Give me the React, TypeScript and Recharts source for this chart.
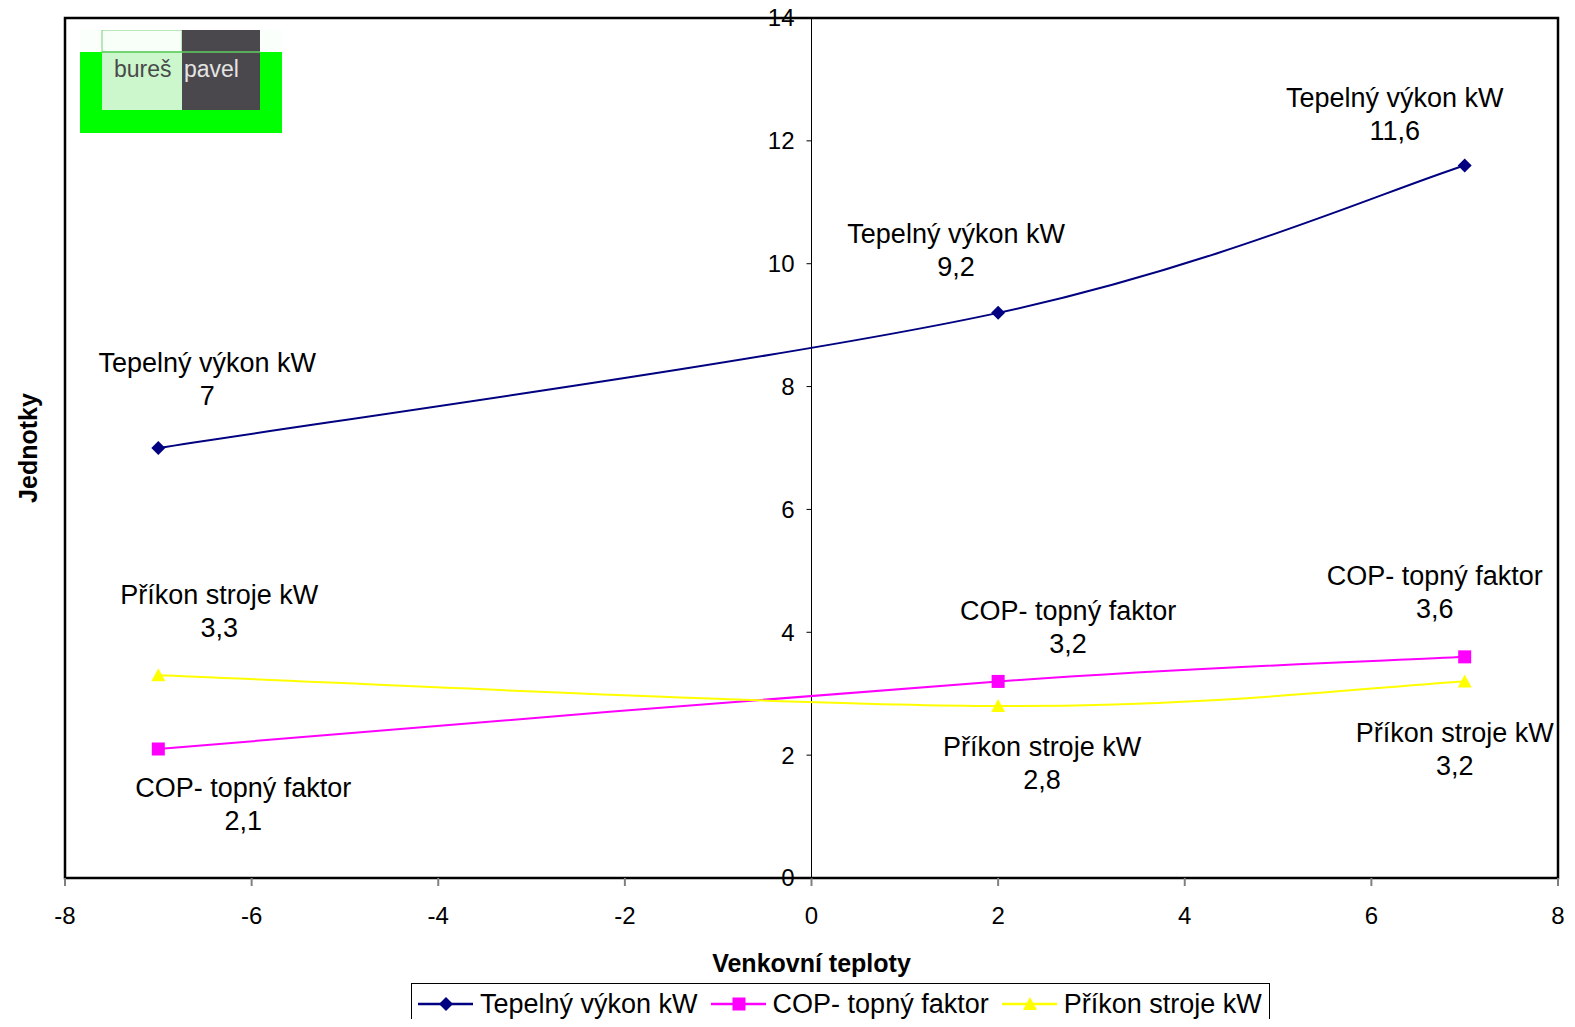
import React from 'react';
import { LineChart, Line, XAxis, YAxis, ReferenceArea, ReferenceLine, LabelList } from 'recharts';

// ---- data ----
const temps = [-7, 2, 7];
const tepelnyVykon = [7, 9.2, 11.6];
const copFaktor = [2.1, 3.2, 3.6];
const prikonStroje = [3.3, 2.8, 3.2];
const xTicks = [-8, -6, -4, -2, 0, 2, 4, 6, 8];
const yTicks = [0, 2, 4, 6, 8, 10, 12, 14];
const seriesNames = ['Tepelný výkon kW', 'COP- topný faktor', 'Příkon stroje kW'];
const seriesKeys = ['tep', 'cop', 'pri'];
const seriesColors = ['#000080', '#FF00FF', '#FFFF00'];
const xTitle = 'Venkovní teploty';
const yTitle = 'Jednotky';

const data = temps.map((t, i) => ({ x: t, tep: tepelnyVykon[i], cop: copFaktor[i], pri: prikonStroje[i] }));

// ---- layout ----
const W = 1559;
const H = 1019;
const Y_AXIS_W = 57;
const M = { top: 10, right: 9, left: 0, bottom: 0 };
const PLOT_W = W - Y_AXIS_W - M.left - M.right;
const ZERO_X = M.left + Y_AXIS_W + PLOT_W / 2;
const FONT = '"Liberation Sans", Arial, sans-serif';

const labelOffsets: Record<string, number[][]> = {
  tep: [[49, -85], [-42, -79], [-70, -68]],
  cop: [[85, 39], [70, -71], [-30, -81]],
  pri: [[61, -81], [44, 41], [-10, 51]],
};

const fmt = (v: number) => String(v).replace('.', ',');

// Excel-style smoothed line (Catmull-Rom Bezier, endpoints duplicated)
const excelCurve = (context: any) => {
  let pts: number[][] = [];
  return {
    areaStart() {},
    areaEnd() {},
    lineStart() {
      pts = [];
    },
    point(x: number, y: number) {
      pts.push([+x, +y]);
    },
    lineEnd() {
      const n = pts.length;
      if (!n) return;
      context.moveTo(pts[0][0], pts[0][1]);
      for (let i = 0; i < n - 1; i++) {
        const p0 = pts[Math.max(i - 1, 0)];
        const p1 = pts[i];
        const p2 = pts[i + 1];
        const p3 = pts[Math.min(i + 2, n - 1)];
        context.bezierCurveTo(
          p1[0] + (p2[0] - p0[0]) / 6,
          p1[1] + (p2[1] - p0[1]) / 6,
          p2[0] - (p3[0] - p1[0]) / 6,
          p2[1] - (p3[1] - p1[1]) / 6,
          p2[0],
          p2[1]
        );
      }
    },
  };
};

const makeLabel = (name: string, key: string) => (props: any) => {
  const { x, y, index, value } = props;
  const [dx, dy] = labelOffsets[key][index];
  const cx = x + dx;
  return (
    <text x={cx} y={y + dy} textAnchor="middle" fontSize={27} fontFamily={FONT} fill="#000">
      <tspan x={cx} dy="0.35em">{name}</tspan>
      <tspan x={cx} dy={33}>{fmt(value)}</tspan>
    </text>
  );
};

const Marker = ({ kind, cx, cy, color }: { kind: number; cx: number; cy: number; color: string }) => {
  if (kind === 0) return <path d={`M${cx},${cy - 7}L${cx + 7},${cy}L${cx},${cy + 7}L${cx - 7},${cy}Z`} fill={color} />;
  if (kind === 1) return <rect x={cx - 6.5} y={cy - 6.5} width={13} height={13} fill={color} />;
  return <path d={`M${cx},${cy - 7}L${cx + 7},${cy + 6}L${cx - 7},${cy + 6}Z`} fill={color} />;
};

const makeDot = (kind: number, color: string) => (props: any) => {
  const { cx, cy, index } = props;
  return <Marker key={`d${kind}-${index}`} kind={kind} cx={cx} cy={cy} color={color} />;
};

const XTick = (props: any) => {
  const { x, y, payload } = props;
  return (
    <text x={x} y={y + 30} dy="0.35em" textAnchor="middle" fontSize={24} fontFamily={FONT} fill="#000">
      {payload.value}
    </text>
  );
};

const YTick = (props: any) => {
  const { y, payload } = props;
  return (
    <g>
      <line x1={ZERO_X - 5} x2={ZERO_X} y1={y} y2={y} stroke="#000" strokeWidth={1} />
      <text x={ZERO_X - 17} y={y} dy="0.35em" textAnchor="end" fontSize={24} fontFamily={FONT} fill="#000">
        {payload.value}
      </text>
    </g>
  );
};

const Logo = () => (
  <svg width={202} height={103} style={{ position: 'absolute', left: 72, top: 22 }}>
    <rect x={0} y={0} width={202} height={103} fill="#fbfffb" />
    <rect x={0} y={22} width={202} height={81} fill="#00FF00" />
    <rect x={22} y={0} width={80} height={80} fill="#ccf7cc" />
    <rect x={22} y={0} width={80} height={22} fill="#f8fff8" stroke="#7ad07a" strokeWidth={1} />
    <rect x={102} y={0} width={78} height={80} fill="#4b484d" />
    <line x1={22} x2={180} y1={22} y2={22} stroke="#5fcf5f" strokeWidth={1.5} />
    <text x={34} y={47} fontSize={23} fontFamily={FONT} fill="#4a4a4a">bureš</text>
    <text x={104} y={47} fontSize={23} fontFamily={FONT} fill="#e4e4e4">pavel</text>
  </svg>
);

const LegendBox = () => (
  <div
    style={{
      position: 'absolute', left: 403, top: 975, width: 859, height: 60,
      border: '1.5px solid #000', boxSizing: 'border-box', display: 'flex', alignItems: 'flex-start',
      paddingLeft: 6, paddingTop: 5, fontFamily: FONT, fontSize: 27, color: '#000', background: '#fff',
      whiteSpace: 'nowrap', overflow: 'hidden',
    }}
  >
    {seriesNames.map((n, i) => (
      <div key={n} style={{ display: 'flex', alignItems: 'center', marginRight: 13, flexShrink: 0 }}>
        <svg width={55} height={20} style={{ flexShrink: 0 }}>
          <line x1={0} x2={55} y1={10} y2={10} stroke={seriesColors[i]} strokeWidth={2.5} />
          <Marker kind={i} cx={28} cy={10} color={seriesColors[i]} />
        </svg>
        <span style={{ marginLeft: 7, lineHeight: '30px', whiteSpace: 'nowrap' }}>{n}</span>
      </div>
    ))}
  </div>
);

export default function App() {
  return (
    <div style={{ position: 'relative', width: W, height: H, overflow: 'hidden', marginBottom: -8, background: '#fff' }}>
      <LineChart width={W} height={H} data={data} margin={M}>
        <XAxis
          type="number"
          dataKey="x"
          domain={[-8, 8]}
          ticks={xTicks}
          height={149}
          axisLine={false}
          tickLine={{ stroke: '#808080', strokeWidth: 2 }}
          tickSize={8}
          tickMargin={0}
          tick={<XTick />}
          label={(p: any) => {
            const vb = p.viewBox || {};
            return (
              <text x={vb.x + vb.width / 2} y={vb.y + 85} dy="0.35em" textAnchor="middle" fontSize={25} fontWeight="bold" fontFamily={FONT} fill="#000">
                {xTitle}
              </text>
            );
          }}
          allowDataOverflow
        />
        <YAxis
          type="number"
          domain={[0, 14]}
          ticks={yTicks}
          width={Y_AXIS_W}
          axisLine={false}
          tickLine={false}
          tick={<YTick />}
          label={(p: any) => {
            const vb = p.viewBox || {};
            const cy = vb.y + vb.height / 2;
            return (
              <text x={20} y={cy} textAnchor="middle" dy="0.35em" transform={`rotate(-90 20 ${cy})`} fontSize={25} fontWeight="bold" fontFamily={FONT} fill="#000">
                {yTitle}
              </text>
            );
          }}
          allowDataOverflow
        />
        <ReferenceArea x1={-8} x2={8} y1={0} y2={14} fill="none" stroke="#000" strokeWidth={2.5} ifOverflow="visible" />
        <ReferenceLine x={0} stroke="#000" strokeWidth={1} />
        {seriesKeys.map((k, i) => (
          <Line
            key={k}
            dataKey={k}
            type={excelCurve as any}
            stroke={seriesColors[i]}
            strokeWidth={2}
            dot={makeDot(i, seriesColors[i])}
            activeDot={false}
            isAnimationActive={false}
          >
            <LabelList dataKey={k} content={makeLabel(seriesNames[i], k)} />
          </Line>
        ))}
      </LineChart>
      <Logo />
      <LegendBox />
    </div>
  );
}
